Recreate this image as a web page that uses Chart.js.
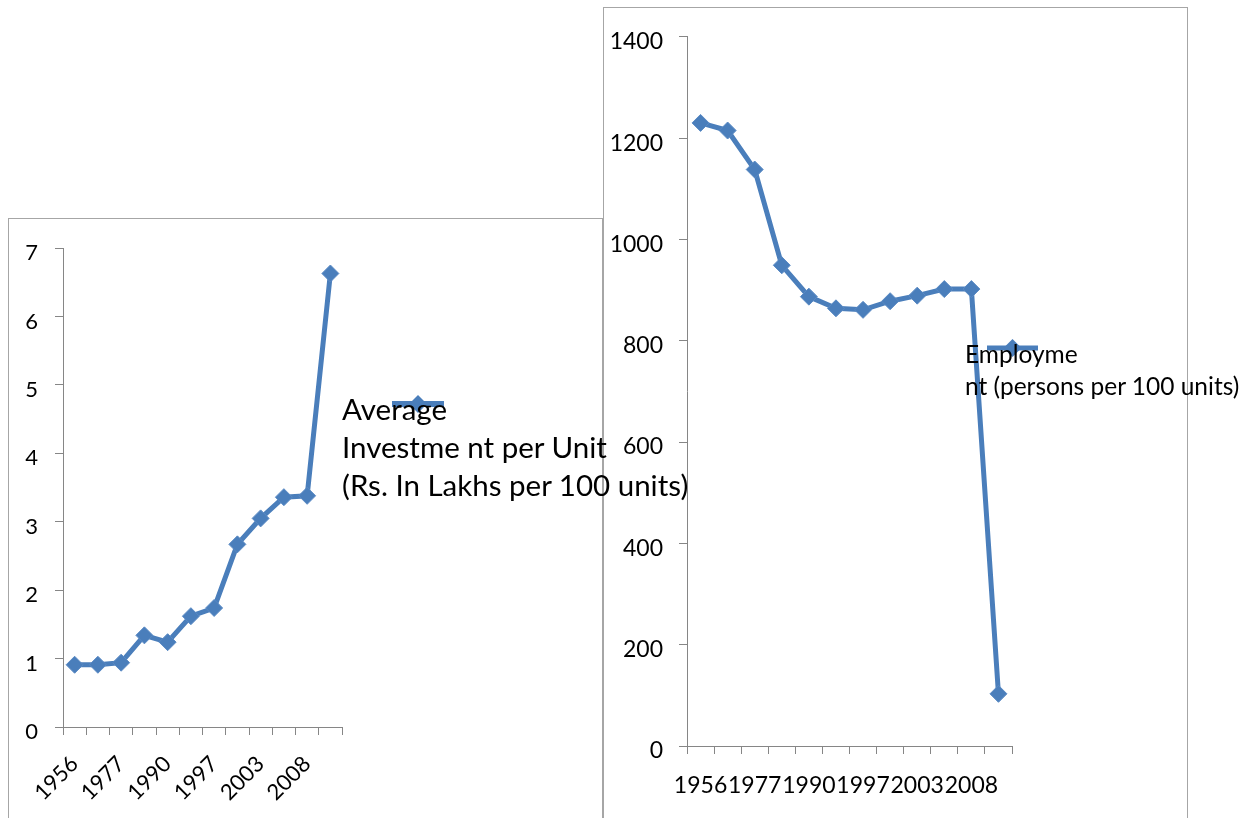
<!DOCTYPE html>
<html><head><meta charset="utf-8">
<script src="https://cdn.jsdelivr.net/npm/chart.js@4.4.1/dist/chart.umd.min.js"></script>
<style>
html,body{margin:0;padding:0;background:#fff;width:1253px;height:818px;overflow:hidden;font-family:Lato,sans-serif;}
.box{position:absolute;border:1px solid #a6a6a6;box-sizing:border-box;}
#boxL{left:8px;top:218px;width:595px;height:660px;}
#boxR{left:603px;top:7px;width:585px;height:870px;}
canvas{position:absolute;}
#cL{left:8px;top:218px;}
#cR{left:604px;top:7px;}
.leg{position:absolute;font-family:Lato,sans-serif;color:#000;white-space:pre;z-index:10;}
#legL{left:342px;top:390px;font-size:29.5px;line-height:38px;}
#legR{left:965px;top:338px;font-size:24.5px;line-height:31.5px;}
</style>
</head>
<body>
<div class="box" id="boxL"></div>
<div class="box" id="boxR"></div>
<canvas id="cL" width="593" height="600"></canvas>
<canvas id="cR" width="583" height="811"></canvas>
<div class="leg" id="legL">Average
Investme nt per Unit
(Rs. In Lakhs per 100 units)</div>
<div class="leg" id="legR">Employme
nt (persons per 100 units)</div>
<script>
// Categories (only alternate year labels are visible in the source chart)
const yearLabels = ['1956','','1977','','1990','','1997','','2003','','2008',''];
// Average investment per unit (Rs. in lakhs per 100 units)
const investment = [0.91, 0.91, 0.94, 1.34, 1.24, 1.62, 1.74, 2.67, 3.05, 3.36, 3.38, 6.63];
// Employment (persons per 100 units)
const employment = [1230, 1215, 1138, 949, 887, 864, 861, 878, 889, 902, 902, 103];
const investTicks = {min:0, max:7, step:1};
const employTicks = {min:0, max:1400, step:200};

const BLUE = '#4a7ebb';
const AXIS = '#868686';

function legendMarker(x1, x2, y, lw, r){
  return {
    id:'legendMarker',
    afterDraw(chart){
      const ctx = chart.ctx;
      ctx.save();
      ctx.strokeStyle = BLUE; ctx.lineWidth = lw;
      ctx.beginPath(); ctx.moveTo(x1, y); ctx.lineTo(x2, y); ctx.stroke();
      const cx = (x1 + x2) / 2;
      ctx.fillStyle = BLUE;
      ctx.beginPath();
      ctx.moveTo(cx, y - r); ctx.lineTo(cx + r, y); ctx.lineTo(cx, y + r); ctx.lineTo(cx - r, y);
      ctx.closePath(); ctx.fill();
      ctx.restore();
    }
  };
}

function makeChart(id, values, yt, opts){
  return new Chart(document.getElementById(id), {
    type:'line',
    data:{labels:yearLabels, datasets:[{
      data:values, borderColor:BLUE, borderWidth:5, tension:0,
      pointStyle:'rectRot', pointRadius:8.5, pointBackgroundColor:BLUE, pointBorderColor:'#5a8ac4', pointBorderWidth:1
    }]},
    options:{
      responsive:false, animation:false,
      layout:{padding:opts.padding},
      plugins:{legend:{display:false}, tooltip:{enabled:false}},
      scales:{
        x:{type:'category', offset:true,
          grid:{offset:true, drawOnChartArea:false, color:AXIS, tickColor:AXIS, tickLength:8},
          border:{color:AXIS},
          ticks:{autoSkip:false, minRotation:opts.rot, maxRotation:opts.rot, color:'#000',
            font:{family:'Lato', size:opts.fs}, padding:opts.xpad},
          afterFit(s){ s.height = opts.xh; }
        },
        y:{min:yt.min, max:yt.max,
          grid:{drawOnChartArea:false, color:AXIS, tickColor:AXIS, tickLength:8},
          border:{color:AXIS},
          ticks:{stepSize:yt.step, color:'#000', font:{family:'Lato', size:opts.fs}, padding:opts.ypad,
            labelOffset:5, callback:(v)=>String(v)},
          afterFit(s){ s.width = opts.yw; }
        }
      }
    },
    plugins:[opts.marker]
  });
}

makeChart('cL', investment, investTicks, {
  padding:{left:0, right:259, top:30, bottom:0}, rot:45, fs:22, xpad:16, xh:91, ypad:17, yw:55,
  marker:legendMarker(384, 436, 186, 6, 9)
});
makeChart('cR', employment, employTicks, {
  padding:{left:0, right:175, top:24, bottom:0}, rot:0, fs:23, xpad:18, xh:72, ypad:16, yw:83,
  marker:legendMarker(383, 434, 341, 5, 9)
});
</script>
</body></html>
